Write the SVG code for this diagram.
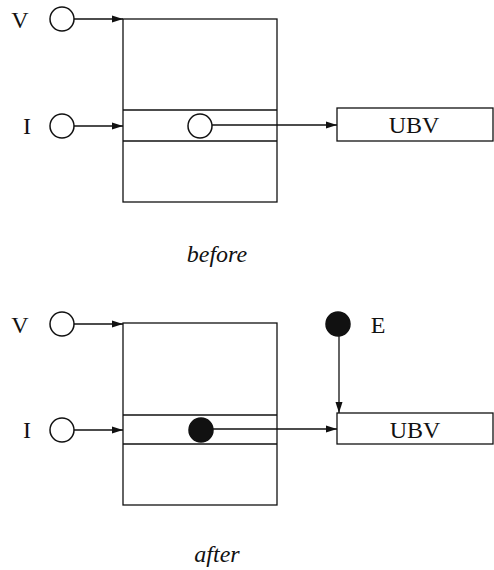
<svg xmlns="http://www.w3.org/2000/svg" width="494" height="570" viewBox="0 0 494 570">
<defs>
<marker id="ah" markerWidth="11" markerHeight="8" refX="11" refY="4" orient="auto" markerUnits="userSpaceOnUse">
<path d="M0,0.5 L11,4 L0,7.5 Z" fill="#111"/>
</marker>
<style>
.ln{stroke:#111;stroke-width:1.3;fill:none}
.box{stroke:#111;stroke-width:1.3;fill:#fff}
.oc{stroke:#111;stroke-width:1.5;fill:#fff}
.fc{stroke:#111;stroke-width:1.5;fill:#111}
.lbl{font-family:"Liberation Serif","Times New Roman",serif;font-size:24px;fill:#111}
.cap{font-family:"Liberation Serif","Times New Roman",serif;font-size:24px;font-style:italic;fill:#111}
</style>
</defs>
<rect width="494" height="570" fill="#fff"/>

<!-- BEFORE -->
<g id="before-register">
<rect class="box" x="123" y="19" width="154" height="183"/>
<line class="ln" x1="123" y1="110" x2="277" y2="110"/>
<line class="ln" x1="123" y1="141" x2="277" y2="141"/>
</g>
<g id="before-V">
<text class="lbl" x="20" y="28" text-anchor="middle">V</text>
<circle class="oc" cx="62" cy="19" r="12"/>
</g>
<g id="before-I">
<text class="lbl" x="27" y="134" text-anchor="middle">I</text>
<circle class="oc" cx="62" cy="126" r="12"/>
</g>
<g id="before-cell">
<circle class="oc" cx="200" cy="126" r="12"/>
</g>
<g id="before-UBV">
<rect class="box" x="337" y="108" width="156" height="33"/>
<text class="lbl" x="414" y="133" text-anchor="middle">UBV</text>
</g>
<text class="cap" x="217" y="262" text-anchor="middle">before</text>

<!-- AFTER -->
<g id="after-register">
<rect class="box" x="123" y="323" width="154" height="182"/>
<line class="ln" x1="123" y1="415" x2="277" y2="415"/>
<line class="ln" x1="123" y1="444" x2="277" y2="444"/>
</g>
<g id="after-V">
<text class="lbl" x="20" y="333" text-anchor="middle">V</text>
<circle class="oc" cx="62" cy="324" r="12"/>
</g>
<g id="after-I">
<text class="lbl" x="27" y="438" text-anchor="middle">I</text>
<circle class="oc" cx="62" cy="430" r="12"/>
</g>
<g id="after-UBV">
<rect class="box" x="337" y="413" width="156" height="31"/>
<text class="lbl" x="415" y="438" text-anchor="middle">UBV</text>
</g>
<g id="after-E">
<circle class="fc" cx="338" cy="324" r="12"/>
<text class="lbl" x="378" y="333" text-anchor="middle">E</text>
</g>
<text class="cap" x="217" y="562" text-anchor="middle">after</text>

<g id="connectors">
<line class="ln" x1="74" y1="19" x2="123" y2="19" marker-end="url(#ah)"/>
<line class="ln" x1="74" y1="126" x2="123" y2="126" marker-end="url(#ah)"/>
<line class="ln" x1="212" y1="125" x2="337" y2="125" marker-end="url(#ah)"/>
<line class="ln" x1="74" y1="324" x2="123" y2="324" marker-end="url(#ah)"/>
<line class="ln" x1="74" y1="430" x2="123" y2="430" marker-end="url(#ah)"/>
<line class="ln" x1="212" y1="429" x2="337" y2="429" marker-end="url(#ah)"/>
<line class="ln" x1="339" y1="336" x2="339" y2="413" marker-end="url(#ah)"/>
</g>
<g id="after-cell">
<circle class="fc" cx="201" cy="430" r="12"/>
</g>
</svg>
